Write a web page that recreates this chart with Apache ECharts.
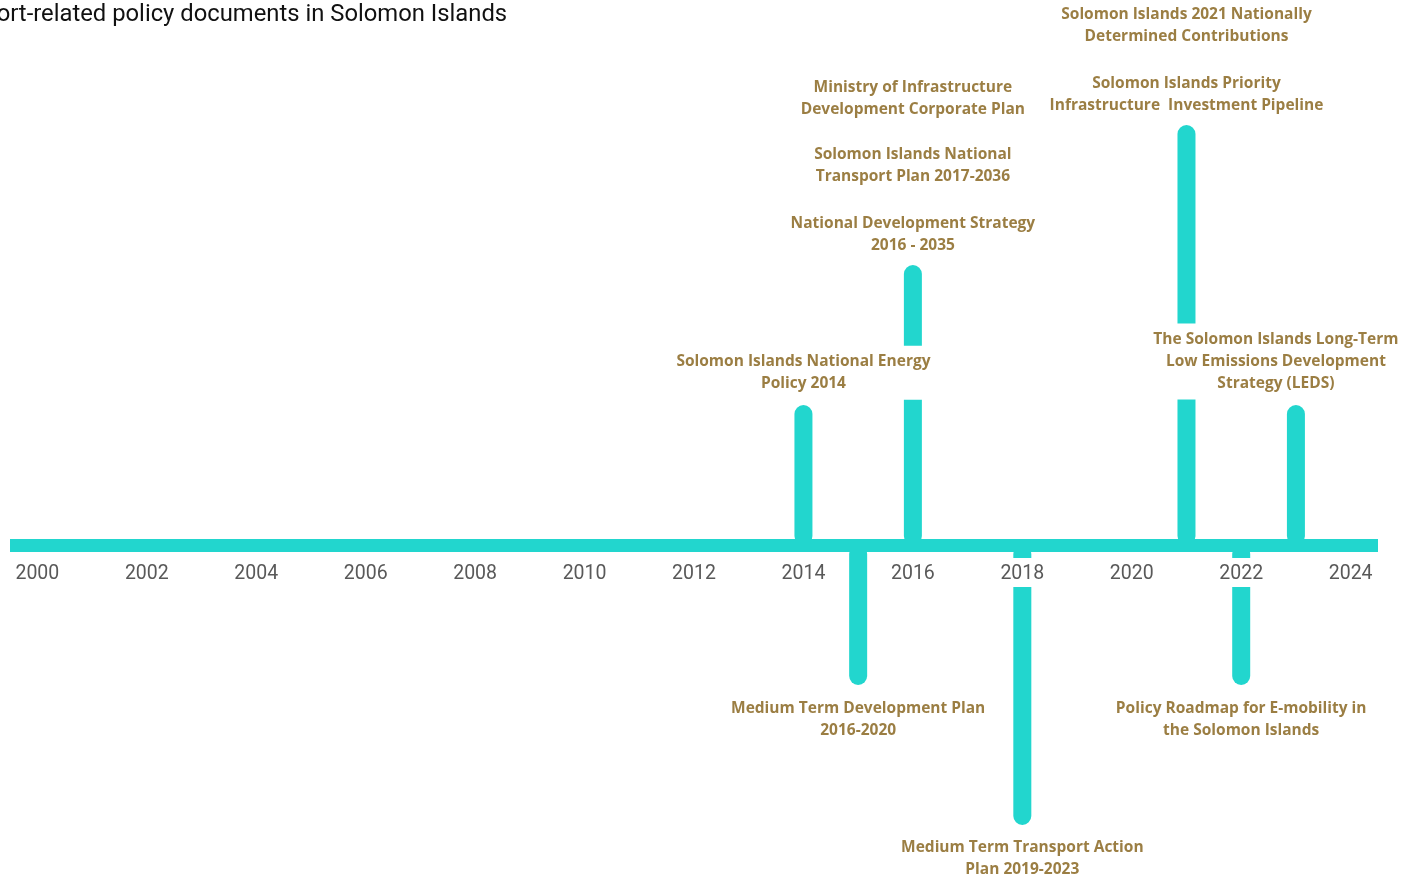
<!DOCTYPE html>
<html>
<head>
<meta charset="utf-8">
<title>Transport-related policy documents in Solomon Islands</title>
<script src="https://cdn.jsdelivr.net/npm/echarts@6/dist/echarts.min.js"></script>
<style>
  html, body { margin: 0; padding: 0; background: #fff; }
  #chart { width: 1416px; height: 880px; }
</style>
</head>
<body>
<div id="chart"></div>
<script>
// years on the timeline
const years = []
for (let y = 2000; y <= 2024; y++) years.push(String(y))

// stems: year and level (positive = above, negative = below)
const stemYears = ['2014', '2015', '2016', '2018', '2021', '2022', '2023']
const stemLevels = [1, -1, 2, -2, 3, -1, 1]

// documents: year, vertical position of the label, title
const docYears = ['2014', '2016', '2016', '2016', '2021', '2021', '2023', '2015', '2018', '2022']
const docLevels = [1.23, 2.22, 2.71, 3.19, 3.22, 3.71, 1.31, -1.25, -2.24, -1.25]
const docNames = [
    'Solomon Islands National Energy\nPolicy 2014',
    'National Development Strategy\n2016 - 2035',
    'Solomon Islands National\nTransport Plan 2017-2036',
    'Ministry of Infrastructure\nDevelopment Corporate Plan',
    'Solomon Islands Priority\nInfrastructure  Investment Pipeline',
    'Solomon Islands 2021 Nationally\nDetermined Contributions',
    'The Solomon Islands Long-Term\nLow Emissions Development\nStrategy (LEDS)',
    'Medium Term Development Plan\n2016-2020',
    'Medium Term Transport Action\nPlan 2019-2023',
    'Policy Roadmap for E-mobility in\nthe Solomon Islands',
]

const teal = '#22D6CE'
const gold = '#9B7E43'

const yMin = -2.3
const yMax = 3.8

const stemData = years.map((y) => {
    const i = stemYears.indexOf(y)
    return i < 0 ? '-' : stemLevels[i]
})

const docData = docYears.map((y, i) => {
    const item = { value: [y, docLevels[i]], name: docNames[i] }
    // LEDS label sits a bit left of its stem so it fits
    if (docYears[i] === '2023') item.label = { offset: [-20, 0] }
    return item
})

const chart = echarts.init(document.getElementById('chart'))
const gridTop = 13
const gridBottom = 13
const plotH = 880 - gridTop - gridBottom
// move the axis up from the grid bottom to the zero level
const zeroOffset = -plotH * (0 - yMin) / (yMax - yMin)

chart.setOption({
    animation: false,
    title: {
        text: 'Transport-related policy documents in Solomon Islands',
        left: -81,
        top: -2,
        textStyle: { fontFamily: 'Roboto', fontSize: 23.8, fontWeight: 'normal', color: '#111' },
    },
    grid: { left: 10, right: 38, top: gridTop, bottom: gridBottom, outerBoundsMode: 'none' },
    xAxis: {
        type: 'category',
        data: years,
        boundaryGap: true,
        position: 'bottom',
        offset: zeroOffset,
        z: 3,
        axisLine: { onZero: false, lineStyle: { color: teal, width: 13, cap: 'butt' } },
        axisTick: { show: false },
        axisLabel: {
            interval: 1,
            margin: 13,
            color: '#595959',
            fontFamily: 'Roboto',
            fontSize: 19.5,
            lineHeight: 19,
            backgroundColor: '#fff',
            padding: [7, 2, 3, 2],
        },
        splitLine: { show: false },
    },
    yAxis: {
        type: 'value',
        min: yMin,
        max: yMax,
        show: false,
        splitLine: { show: false },
    },
    series: [
        {
            type: 'bar',
            data: stemData,
            barWidth: 18,
            itemStyle: { color: teal, borderRadius: 9 },
        },
        {
            type: 'scatter',
            z: 5,
            data: docData,
            symbolSize: 1,
            itemStyle: { color: 'rgba(0,0,0,0)', opacity: 1 },
            label: {
                show: true,
                position: 'inside',
                formatter: (p) => p.name,
                fontFamily: 'Open Sans',
                fontWeight: 'bold',
                fontSize: 15.5,
                lineHeight: 22,
                color: gold,
                align: 'center',
                backgroundColor: '#fff',
                padding: [5, 4],
            },
        },
    ],
})
</script>
</body>
</html>
